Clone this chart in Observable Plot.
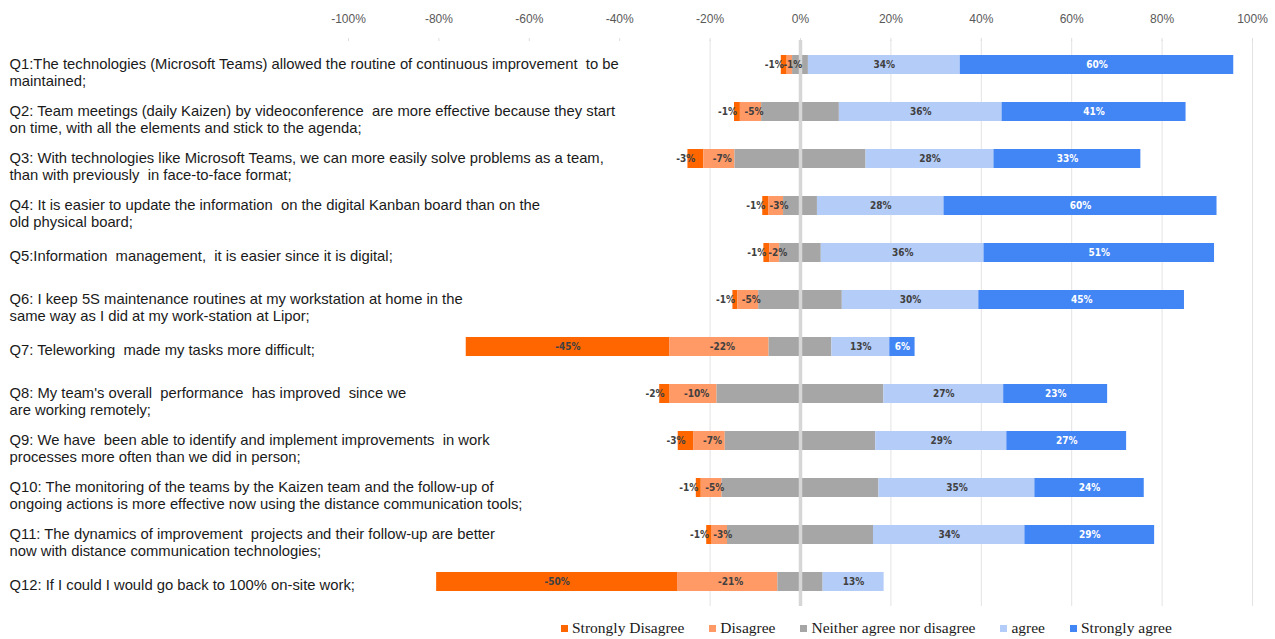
<!DOCTYPE html>
<html><head><meta charset="utf-8">
<script src="https://cdn.jsdelivr.net/npm/d3@7"></script>
<script src="https://cdn.jsdelivr.net/npm/@observablehq/plot@0.6"></script>
<style>
body{margin:0;background:#fff;}
#legend{display:flex;align-items:center;margin-left:561px;margin-top:8px;height:20px;font-family:"Liberation Serif","Times New Roman",serif;font-size:15.5px;color:#1a1a1a;}
.item{display:flex;align-items:center;margin-right:25px;white-space:nowrap;}
.sw{width:7px;height:7px;margin-right:4px;}
</style></head><body>
<div id="chart"></div><div id="legend"></div>
<script>
const questionIds = ["Q1","Q2","Q3","Q4","Q5","Q6","Q7","Q8","Q9","Q10","Q11","Q12"];
const questionLabels = [
  "Q1:The technologies (Microsoft Teams) allowed the routine of continuous improvement  to be\nmaintained;",
  "Q2: Team meetings (daily Kaizen) by videoconference  are more effective because they start\non time, with all the elements and stick to the agenda;",
  "Q3: With technologies like Microsoft Teams, we can more easily solve problems as a team,\nthan with previously  in face-to-face format;",
  "Q4: It is easier to update the information  on the digital Kanban board than on the\nold physical board;",
  "Q5:Information  management,  it is easier since it is digital;",
  "Q6: I keep 5S maintenance routines at my workstation at home in the\nsame way as I did at my work-station at Lipor;",
  "Q7: Teleworking  made my tasks more difficult;",
  "Q8: My team's overall  performance  has improved  since we\nare working remotely;",
  "Q9: We have  been able to identify and implement improvements  in work\nprocesses more often than we did in person;",
  "Q10: The monitoring of the teams by the Kaizen team and the follow-up of\nongoing actions is more effective now using the distance communication tools;",
  "Q11: The dynamics of improvement  projects and their follow-up are better\nnow with distance communication technologies;",
  "Q12: If I could I would go back to 100% on-site work;"
];
const categories = ["Strongly Disagree","Disagree","Neither agree nor disagree","agree","Strongly agree"];
const colors = ["#FF6600","#FF9966","#A6A6A6","#B4CCF8","#4285F4"];

const stronglyDisagree = [1.3,1.3,3.5,1.3,1.3,1.1,45,2.3,3.4,1.1,1.2,53.3];
const disagree         = [1.2,4.7,6.9,3.3,2.2,4.6,22,10.4,7,4.6,3.4,22.2];
const neutral          = [3.5,17.2,29,7.5,9.2,18.5,13.9,36.9,33.3,34.7,32.3,10];
const agree            = [33.6,36,28.3,28,36,30.2,12.8,26.5,29,34.5,33.5,13.5];
const stronglyAgree    = [60.5,40.7,32.5,60.4,51,45.5,5.6,23,26.5,24.2,28.7,0];

const sdLabels = ["-1%","-1%","-3%","-1%","-1%","-1%","-45%","-2%","-3%","-1%","-1%","-50%"];
const dLabels  = ["-1%","-5%","-7%","-3%","-2%","-5%","-22%","-10%","-7%","-5%","-3%","-21%"];
const aLabels  = ["34%","36%","28%","28%","36%","30%","13%","27%","29%","35%","34%","13%"];
const saLabels = ["60%","41%","33%","60%","51%","45%","6%","23%","27%","24%","29%",""];

const xTicks = [-100,-80,-60,-40,-20,0,20,40,60,80,100];
const fullGrid = [-20,0,20,40,60,80,100];
const gridStubs = [{x:-60,q:"Q7"},{x:-40,q:"Q7"},{x:-80,q:"Q12"},{x:-60,q:"Q12"},{x:-40,q:"Q12"}];

const segments = [];
questionIds.forEach((q,i) => {
  segments.push({q, cat:categories[0], value:-stronglyDisagree[i], label:sdLabels[i]});
  segments.push({q, cat:categories[1], value:-disagree[i], label:dLabels[i]});
  segments.push({q, cat:categories[2], value:-neutral[i]/2, label:""});
  segments.push({q, cat:categories[2], value:neutral[i]/2, label:""});
  segments.push({q, cat:categories[3], value:agree[i], label:aLabels[i]});
  if (stronglyAgree[i] > 0) segments.push({q, cat:categories[4], value:stronglyAgree[i], label:saLabels[i]});
});
const labelRows = questionIds.map((q,i)=>({q, text:questionLabels[i], multi: questionLabels[i].includes("\n")}));
const order = ["Neither agree nor disagree","Disagree","Strongly Disagree","agree","Strongly agree"];

const isSmallSD = d => d.cat === categories[0] && Math.abs(d.value) < 10;
const barFont = {fontSize: 10, fontWeight: "bold",
  fontFamily: "'Liberation Sans Narrow', 'DejaVu Sans Condensed', sans-serif"};
const labelMark = (textFn, dx) => Plot.text(segments, Plot.stackX({
  x: "value", y: "q", z: "cat", order, text: textFn, dx,
  fill: d => d.cat === "Strongly agree" ? "white" : "#404040", ...barFont}));

const chart = Plot.plot({
  width: 1275, height: 610,
  marginLeft: 348, marginRight: 23, marginTop: 40, marginBottom: 4,
  style: {fontFamily: "'Liberation Sans', Arial, sans-serif", background: "white"},
  x: {domain: [-100,100], axis: null},
  y: {domain: questionIds, axis: null, paddingInner: 0.6, paddingOuter: 0.26},
  color: {domain: categories, range: colors},
  marks: [
    Plot.ruleX(fullGrid, {stroke: "#e3e3e3", strokeWidth: 1}),
    Plot.ruleX(gridStubs, {x: "x", y: "q", stroke: "#e3e3e3", insetTop: -14, insetBottom: -14}),
    Plot.axisX({anchor: "top", ticks: xTicks, tickFormat: d => d + "%", tickSize: 3, tickPadding: 15,
      stroke: "#dddddd", fill: "#595959", fontSize: 12}),
    Plot.barX(segments, Plot.stackX({x: "value", y: "q", fill: "cat", z: "cat", order})),
    Plot.ruleX([0], {stroke: "#d6d6d6", strokeWidth: 3.5}),
    labelMark(d => isSmallSD(d) ? d.label : "", -10),
    labelMark(d => d.cat === categories[1] ? d.label : "", 3),
    labelMark(d => (d.cat === categories[1] || isSmallSD(d)) ? "" : d.label, 0),
    Plot.text(labelRows, {y: "q", text: d => d.multi ? d.text : "", frameAnchor: "left", textAnchor: "start",
      dx: -339, dy: 7, fontSize: 14.8, lineHeight: 1.15, fill: "#1a1a1a"}),
    Plot.text(labelRows, {y: "q", text: d => d.multi ? "" : d.text, frameAnchor: "left", textAnchor: "start",
      dx: -339, dy: 3, fontSize: 14.8, fill: "#1a1a1a"})
  ]
});
document.getElementById("chart").appendChild(chart);

const legend = d3.select("#legend");
categories.forEach((c,i) => {
  const it = legend.append("div").attr("class","item");
  it.append("div").attr("class","sw").style("background", colors[i]);
  it.append("span").text(c);
});
</script>
</body></html>
